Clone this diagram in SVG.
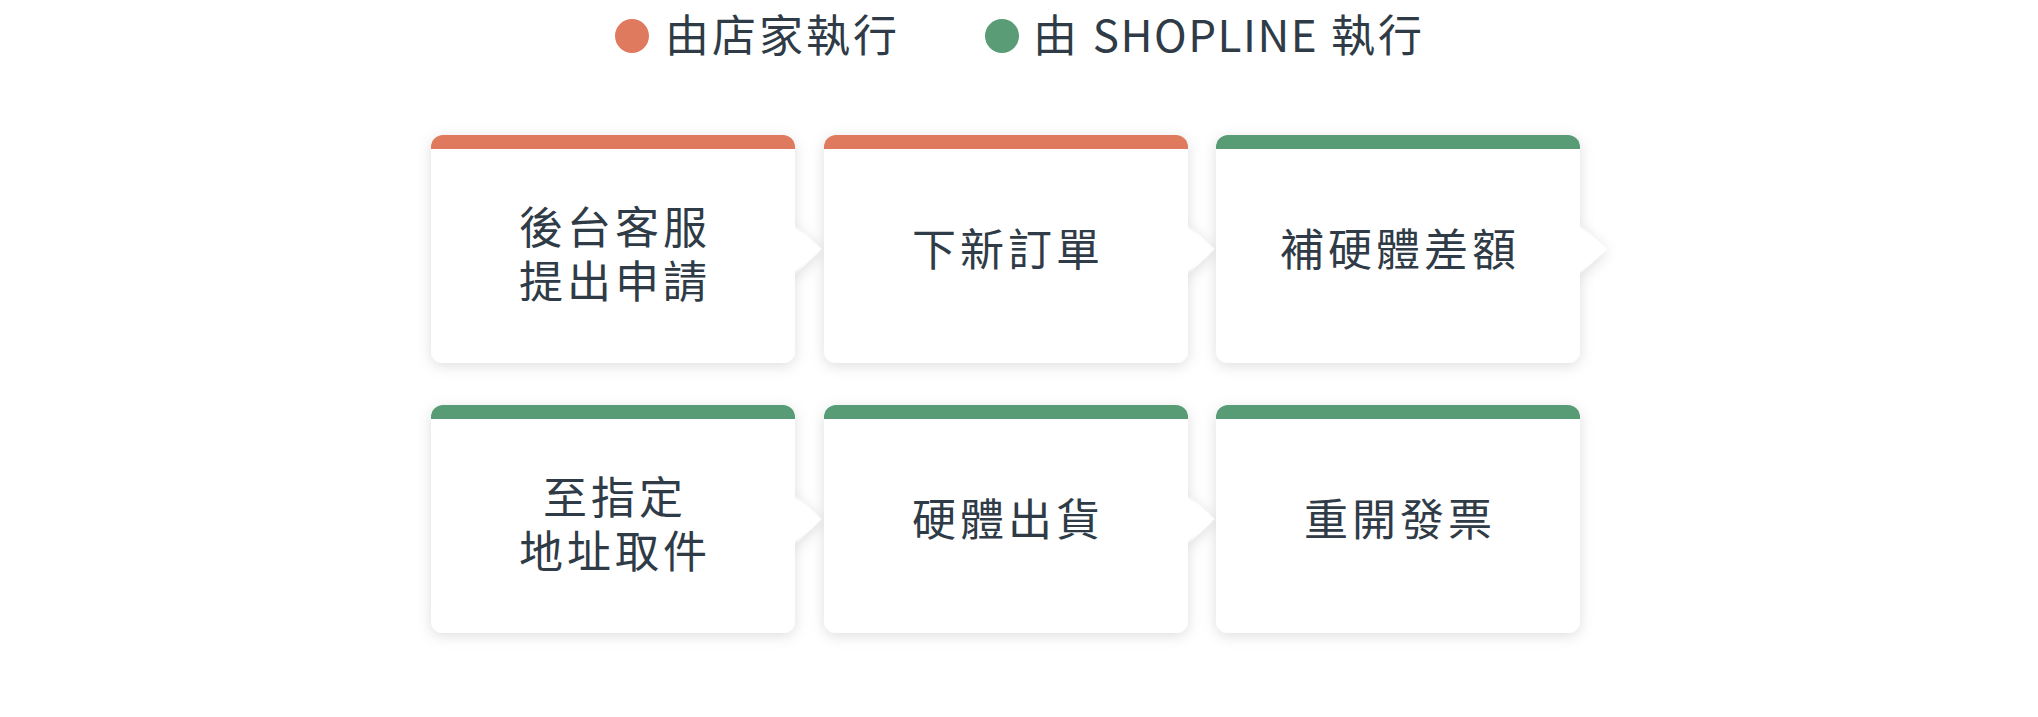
<svg xmlns="http://www.w3.org/2000/svg" width="2038" height="717" viewBox="0 0 2038 717">
<defs>
<style>
.t{font-family:"Noto Sans CJK TC","Noto Sans CJK SC",sans-serif;font-size:44px;fill:#2f3b46;letter-spacing:4px}
.c{text-anchor:middle}
.card{fill:#ffffff}
.org{fill:#e07a5f}
.grn{fill:#599c76}
.arr{fill:#ffffff}
</style>
<filter id="sh" x="-20%" y="-20%" width="140%" height="140%">
<feDropShadow dx="0" dy="3" stdDeviation="7" flood-color="#000" flood-opacity="0.13"/>
</filter>
<clipPath id="cc"><rect x="0" y="0" width="364" height="228" rx="12"/></clipPath>
<g id="cardO">
<rect class="card" x="0" y="0" width="364" height="228" rx="12"/>
<rect class="org" x="0" y="0" width="364" height="14" clip-path="url(#cc)"/>
</g>
<g id="cardG">
<rect class="card" x="0" y="0" width="364" height="228" rx="12"/>
<rect class="grn" x="0" y="0" width="364" height="14" clip-path="url(#cc)"/>
</g>
</defs>
<rect width="2038" height="717" fill="#ffffff"/>

<g id="legend">
<circle class="org" cx="632" cy="36" r="17"/>
<text class="t" x="665" y="52" style="letter-spacing:3px">由店家執行</text>
<circle class="grn" cx="1002" cy="36" r="17"/>
<text class="t" x="1033" y="52" style="letter-spacing:3px">由 <tspan style="letter-spacing:1.5px">SHOPLINE</tspan> 執行</text>
</g>

<g id="connectors" filter="url(#sh)">
<polygon class="arr" points="794,224 822,249 794,275"/>
<polygon class="arr" points="1187,224 1215,249 1187,275"/>
<polygon class="arr" points="1579,224 1607,249 1579,275"/>
<polygon class="arr" points="794,494 822,519 794,545"/>
<polygon class="arr" points="1187,494 1215,519 1187,545"/>
</g>

<g id="n1" filter="url(#sh)">
<use href="#cardO" x="431" y="135"/>
</g>
<g id="n2" filter="url(#sh)">
<use href="#cardO" x="824" y="135"/>
</g>
<g id="n3" filter="url(#sh)">
<use href="#cardG" x="1216" y="135"/>
</g>
<g id="n4" filter="url(#sh)">
<use href="#cardG" x="431" y="405"/>
</g>
<g id="n5" filter="url(#sh)">
<use href="#cardG" x="824" y="405"/>
</g>
<g id="n6" filter="url(#sh)">
<use href="#cardG" x="1216" y="405"/>
</g>

<g id="arrow-tips">
<polygon class="arr" points="792,225 821,249 792,274"/>
<polygon class="arr" points="1185,225 1214,249 1185,274"/>
<polygon class="arr" points="1578,225 1606,249 1578,274"/>
<polygon class="arr" points="792,495 821,519 792,544"/>
<polygon class="arr" points="1185,495 1214,519 1185,544"/>
</g>

<g id="labels">
<text class="t c" x="615" y="244">後台客服</text>
<text class="t c" x="615" y="298">提出申請</text>
<text class="t c" x="1008" y="266">下新訂單</text>
<text class="t c" x="1400" y="266">補硬體差額</text>
<text class="t c" x="615" y="514">至指定</text>
<text class="t c" x="615" y="568">地址取件</text>
<text class="t c" x="1008" y="536">硬體出貨</text>
<text class="t c" x="1400" y="536">重開發票</text>
</g>
</svg>
